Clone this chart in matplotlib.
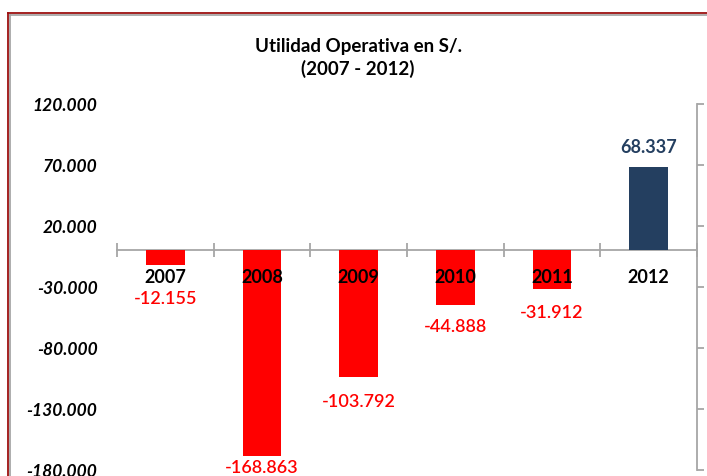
import matplotlib.pyplot as plt
from matplotlib.lines import Line2D

# datos
years = ['2007', '2008', '2009', '2010', '2011', '2012']
utilidad = [-12155, -168863, -103792, -44888, -31912, 68337]
yticks = [120000, 70000, 20000, -30000, -80000, -130000, -180000]
title = 'Utilidad Operativa en S/.\n(2007 - 2012)'

RED = '#ff0000'
NAVY = '#243f60'
GRAY = '#a6a6a6'
FONT = 'Lato'


def fmt(v):
    return '{:,.0f}'.format(v).replace(',', '.')


fig = plt.figure(figsize=(7.07, 4.77), dpi=100)
W, H = 707, 477
ax = fig.add_axes([117 / W, 6 / H, 580 / W, 366 / H])

x = range(len(years))
colors = [NAVY if v > 0 else RED for v in utilidad]
ax.bar(x, utilidad, width=0.4, color=colors, zorder=1)

ax.set_xlim(-0.5, len(years) - 0.5)
ax.set_ylim(-180000, 120000)

# eje x en cero con marcas entre categorias
for s in ['top', 'left']:
    ax.spines[s].set_visible(False)
ax.spines['bottom'].set_position(('data', 0))
ax.spines['bottom'].set_color(GRAY)
ax.spines['bottom'].set_linewidth(1.3)
ax.spines['bottom'].set_zorder(0)
ax.spines['right'].set_color(GRAY)
ax.spines['right'].set_linewidth(1.3)
ax.set_xticks([i - 0.5 for i in range(len(years) + 1)])
ax.set_xticklabels([])
ax.tick_params(axis='x', which='major', direction='inout', length=10,
               width=1.3, color=GRAY)
ax.set_xticks(list(x), minor=True)
ax.set_xticklabels(years, minor=True, fontsize=13, fontweight='bold',
                   family=FONT)
ax.tick_params(axis='x', which='minor', length=0, pad=12.5)
for lab in ax.get_xticklabels(minor=True):
    lab.set_zorder(3)

# eje y: etiquetas a la izquierda, marcas a la derecha
ax.set_yticks(yticks)
ax.set_yticklabels([fmt(v) for v in yticks], fontsize=12.5,
                   fontweight='bold', fontstyle='italic', family=FONT)
ax.tick_params(axis='y', left=False, right=True, labelleft=True,
               labelright=False, direction='out', length=5, width=1.3,
               color=GRAY, pad=9)

# etiquetas de valores
offs = [-33, -11, -24, -21, -23, 21]
for i, v in enumerate(utilidad):
    c = NAVY if v > 0 else RED
    ax.annotate(fmt(v), (i, v), xytext=(0, offs[i]),
                textcoords='offset pixels', ha='center', va='center',
                fontsize=13, color=c, family=FONT,
                fontweight='bold' if v > 0 else 600, zorder=4)

fig.text(358 / W, 1 - 58 / H, title, ha='center', va='center',
         fontsize=13.5, fontweight='bold', family=FONT, linespacing=1.3)

# borde del grafico
fig.add_artist(Line2D([7.5 / W, 7.5 / W], [0, 1 - 13.5 / H],
                      color='#9c0f0f', lw=1.3))
fig.add_artist(Line2D([7.5 / W, 1], [1 - 13.8 / H, 1 - 13.8 / H],
                      color='#9c0f0f', lw=1.3))
fig.add_artist(Line2D([10.3 / W, 10.3 / W], [0, 1 - 15.8 / H],
                      color='#a0a0a0', lw=1.2))
fig.add_artist(Line2D([10.3 / W, 1], [1 - 15.8 / H, 1 - 15.8 / H],
                      color='#a0a0a0', lw=1.2))

fig.savefig('out.png', dpi=100)
